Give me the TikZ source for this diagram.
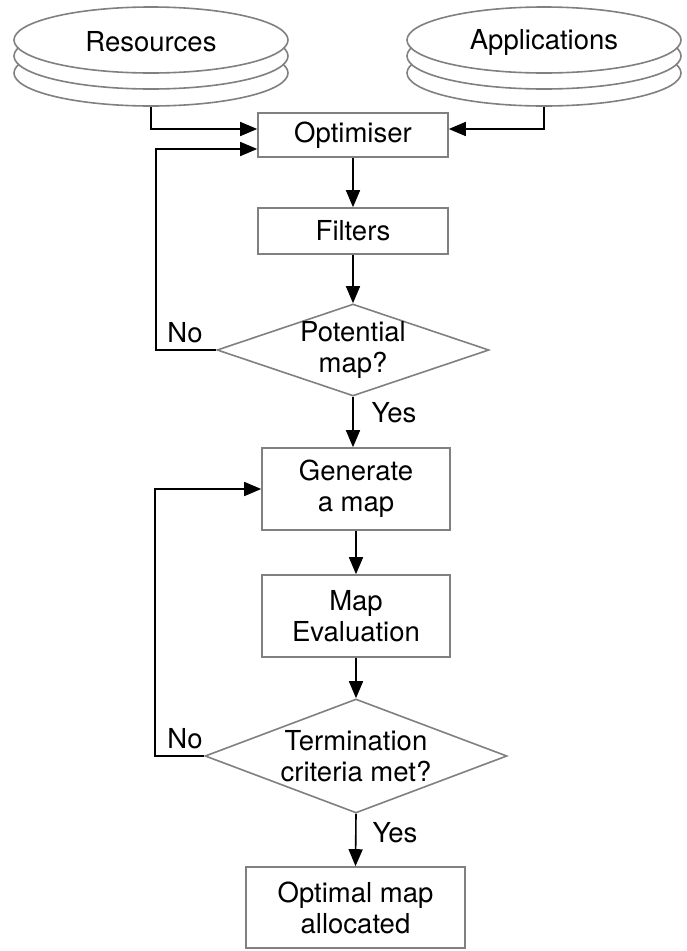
\documentclass[tikz,border=0pt]{standalone}
\usepackage{fontspec}
\setmainfont{TeX Gyre Heros}
\usetikzlibrary{shapes.geometric,arrows.meta,calc}
\definecolor{edgegray}{HTML}{808080}
\begin{document}
\begin{tikzpicture}[x=1pt,y=-1pt,
  font=\fontsize{27.5}{31}\selectfont,
  box/.style={draw=edgegray,line width=1.6pt,fill=white,rectangle,inner sep=0pt,align=center},
  disc/.style={draw=edgegray,line width=1.6pt,fill=white,ellipse,inner sep=0pt,minimum width=274pt,minimum height=66pt},
  decision/.style={draw=edgegray,line width=1.6pt,fill=white,diamond,inner sep=0pt},
  txt/.style={inner sep=0pt,align=center},
  arr/.style={draw=black,line width=1.6pt,-{Triangle[length=17pt,width=14pt]}},
  lbl/.style={inner sep=0pt}]
\useasboundingbox (0,0) rectangle (686,951);

% stacked data sources
\node[disc] (res3) at (151,73) {};
\node[disc] (res2) at (151,56) {};
\node[disc] (res)  at (151,40) {};
\node[txt] at ([yshift=-2pt]res.center) {Resources};
\node[disc] (app3) at (544,73) {};
\node[disc] (app2) at (544,56) {};
\node[disc] (app)  at (544,40) {};
\node[txt] at ([yshift=-2pt]app.center) {Applications};

% process boxes
\node[box,minimum width=190pt,minimum height=44pt] (opt) at (353,135) {Optimiser};
\node[box,minimum width=190pt,minimum height=46pt] (filt) at (353,231) {Filters};
\node[decision,minimum width=272pt,minimum height=92pt] (pot) at (353,350) {};
\node[txt] at (pot.center) {Potential\\map?};
\node[box,minimum width=188pt,minimum height=82pt] (gen) at (356,489) {Generate\\a map};
\node[box,minimum width=188pt,minimum height=82pt] (eval) at (356,616) {Map\\Evaluation};
\node[decision,minimum width=302pt,minimum height=114pt] (term) at (356,756) {};
\node[txt] at (term.center) {Termination\\criteria met?};
\node[box,minimum width=219pt,minimum height=81pt] (final) at (355.5,907.5) {Optimal map\\allocated};

% inputs to the optimiser
\draw[arr] (res3.south) |- ([yshift=6pt]opt.west);
\draw[arr] (app3.south) |- ([yshift=6pt]opt.east);

% main flow
\draw[arr] (opt.south) -- (filt.north);
\draw[arr] (filt.south) -- (pot.north);
\draw[arr] (pot.south) -- (pot.south |- gen.north);
\draw[arr] (gen.south) -- (eval.north);
\draw[arr] (eval.south) -- (term.north);
\draw[arr] (term.south) -- (final.north);

% feedback loops
\draw[arr] (pot.west) -- ++(-60,0) |- ([yshift=-14pt]opt.west);
\draw[arr] (term.west) -- ++(-49,0) |- (gen.west);

% branch labels
\node[lbl] at (185,333) {No};
\node[lbl] at (394,413) {Yes};
\node[lbl] at (185,739) {No};
\node[lbl] at (395,833) {Yes};
\end{tikzpicture}
\end{document}
